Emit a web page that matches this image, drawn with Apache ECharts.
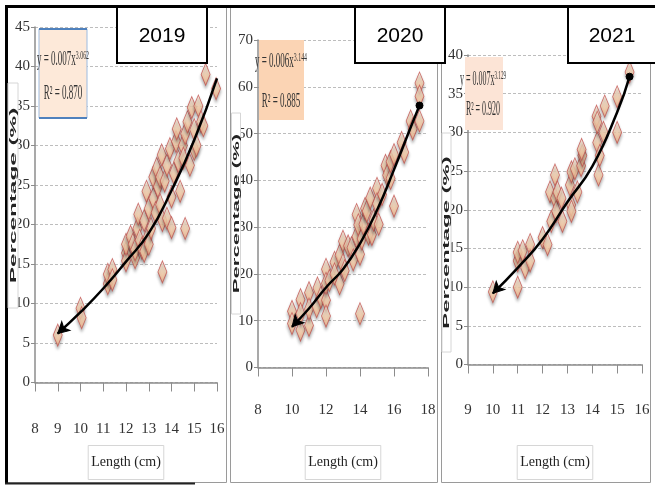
<!DOCTYPE html>
<html><head><meta charset="utf-8">
<script src="https://cdn.jsdelivr.net/npm/echarts@6/dist/echarts.min.js"></script>
<style>html,body{margin:0;padding:0;background:#fff}#c{width:655px;height:485px}</style>
</head><body><div id="c"></div>
<script>
// ---- data ----
const years = ['2019', '2020', '2021'];
const xTitle = 'Length (cm)';
const yTitle = 'Percentage (%)';
const eqBase = ['y = 0.007x', 'y = 0.006x', 'y = 0.007x'];
const eqExp = ['3.062', '3.144', '3.129'];
const r2 = ['R² = 0.870', 'R² = 0.885', 'R² = 0.920'];

const len2019 = [9.0,10.0,10.05,11.2,11.2,11.4,11.4,12.0,12.0,12.0,12.2,12.3,12.4,12.4,12.5,12.54,12.6,12.7,12.8,12.8,12.9,12.94,13.0,13.0,13.1,13.2,13.2,13.3,13.35,13.4,13.5,13.5,13.57,13.6,13.6,13.7,13.8,13.8,13.93,14.0,14.0,14.1,14.2,14.23,14.3,14.38,14.5,14.52,14.6,14.6,14.7,14.81,14.89,15.0,15.0,15.1,15.18,15.3,15.4,15.5,15.96];
const pct2019 = [6.0,9.4,8.2,12.5,13.7,14.3,13.0,16.4,15.4,17.5,18.5,17.5,15.8,16.8,19.5,21.3,18.0,17.0,16.6,20.5,24.2,18.3,22.0,17.5,19.5,23.3,26.0,21.5,27.1,24.8,22.5,26.0,28.8,14.0,20.5,25.5,20.8,27.5,29.6,19.6,23.5,26.5,30.5,32.1,28.0,24.2,30.0,28.4,19.5,31.5,33.0,27.5,34.8,29.5,32.0,30.0,35.0,33.0,32.5,39.0,37.2];
const trendLen2019 = [9, 10, 11, 12, 13, 14, 15, 16];
const trendPct2019 = [6.2, 8.9, 11.9, 15.3, 18.9, 24.3, 30.7, 38.5];

const len2020 = [10.0,10.0,10.5,10.5,10.5,11.0,11.0,11.0,11.45,11.5,11.7,12.0,12.0,12.0,12.0,12.2,12.5,12.5,12.8,12.8,13.0,13.0,13.1,13.3,13.5,13.6,13.8,13.8,13.9,14.0,14.0,14.1,14.2,14.3,14.4,14.5,14.6,14.7,14.8,15.0,15.0,15.1,15.3,15.5,15.6,15.8,15.8,16.0,16.0,16.45,16.6,16.98,17.1,17.5,17.5,17.5];
const pct2020 = [12.0,9.4,14.5,8.0,11.5,16.0,9.0,12.5,13.0,17.0,15.0,21.0,14.4,11.0,18.0,18.6,22.5,20.0,17.9,24.0,27.0,22.0,20.7,26.0,25.6,23.0,32.7,28.0,30.5,11.5,24.2,27.5,30.6,34.0,33.4,28.5,36.2,28.4,31.5,38.3,35.0,30.6,37.0,43.2,41.1,40.4,44.0,34.5,45.5,48.1,46.0,52.7,51.0,60.8,58.0,52.7];
const trendLen2020 = [10, 11, 12, 13, 14, 15, 16, 17, 17.5];
const trendPct2020 = [8.7, 12.6, 17.1, 21.0, 26.5, 33.6, 42.3, 51.5, 56.0];

const len2021 = [10.0,11.0,11.0,11.0,11.2,11.3,11.5,11.5,12.0,12.2,12.3,12.35,12.5,12.5,12.55,12.6,12.8,12.76,13.1,13.16,13.15,13.16,13.3,13.4,13.55,13.6,13.57,14.17,14.2,14.2,14.25,14.3,14.45,14.5,15.0,15.0,15.5];
const pct2021 = [9.4,13.4,10.0,14.5,14.7,12.5,15.5,13.4,16.4,15.5,22.3,18.5,24.5,21.5,19.8,22.3,18.5,21.5,23.2,24.9,20.6,19.8,25.3,22.3,25.7,27.0,27.8,32.1,28.7,31.3,24.5,27.0,30.0,33.4,34.6,30.0,37.8];
const trendLen2021 = [10, 11, 12, 13, 14, 15, 15.5];
const trendPct2021 = [9.2, 12.5, 16.2, 21.0, 25.6, 32.6, 37.2];

// ---- layout ----
const grids = [
  {left: 35, top: 27, width: 182, height: 359},
  {left: 258, top: 40, width: 170, height: 331},
  {left: 468, top: 55, width: 174, height: 313}
];
const xr = [[8, 16, 1], [8, 18, 2], [9, 16, 1]];
const yr = [[0, 45, 5], [0, 70, 10], [0, 40, 5]];
const labelMargin = [39, 35, 38];
const nameGap = [63, 78, 81];

const serif = "'Liberation Serif','Times New Roman',serif";
const axisGray = '#8c8c8c';

const xAxes = xr.map((r, i) => ({
  gridIndex: i, type: 'value', min: r[0], max: r[1], interval: r[2],
  axisLine: {show: true, lineStyle: {color: axisGray, width: 1.5}},
  axisTick: {show: true, length: 9, lineStyle: {color: axisGray}},
  axisLabel: {margin: labelMargin[i], fontFamily: serif, fontSize: 15, color: '#333'},
  splitLine: {show: false},
  name: xTitle, nameLocation: 'middle', nameGap: nameGap[i],
  nameTextStyle: {fontFamily: serif, fontSize: 14, color: '#222', borderColor: '#d6d6d6', borderWidth: 1, padding: [10, 3, 10, 3]}
}));
const yAxes = yr.map((r, i) => ({
  gridIndex: i, type: 'value', min: r[0], max: r[1], interval: r[2],
  axisLine: {show: true, lineStyle: {color: axisGray, width: 1.5}},
  axisTick: {show: true, length: 4, lineStyle: {color: axisGray}},
  axisLabel: {margin: 5, fontFamily: serif, fontSize: 15, color: '#333'},
  splitLine: {show: true, lineStyle: {color: '#bdbdbd', type: [3, 2], width: 1}}
}));

const diamondStyle = {
  color: new echarts.graphic.LinearGradient(0, 0, 0, 1, [
    {offset: 0, color: '#fff4ea'}, {offset: 0.55, color: '#fcd3ae'}, {offset: 1, color: '#f3b184'}
  ]),
  borderColor: '#c0504d', borderWidth: 1,
  shadowBlur: 3, shadowColor: 'rgba(0,0,0,0.35)', shadowOffsetY: 3
};

function scatter(i, xs, ys) {
  return {
    type: 'scatter', xAxisIndex: i, yAxisIndex: i, clip: false, z: 2,
    symbol: 'diamond', symbolSize: [9, 22], itemStyle: diamondStyle,
    data: xs.map((x, k) => [x, ys[k]])
  };
}
function trend(i, xs, ys, rot, endDot) {
  const data = xs.map((x, k) => {
    const item = {value: [x, ys[k]]};
    if (k === 0) { item.symbol = 'arrow'; item.symbolSize = [9, 11]; item.symbolRotate = rot; }
    if (k === xs.length - 1 && endDot) { item.symbol = 'circle'; item.symbolSize = 7; }
    return item;
  });
  return {
    type: 'line', xAxisIndex: i, yAxisIndex: i, z: 5, smooth: true, clip: false,
    symbol: 'none', showSymbol: true,
    lineStyle: {color: '#000', width: 2.5},
    itemStyle: {color: '#000', borderColor: '#000'},
    data: data
  };
}

// ---- decorations ----
const graphic = [];
[[7.5, 219], [230.5, 207], [441.5, 209]].forEach(p => graphic.push({
  type: 'rect', z: 1, shape: {x: p[0], y: 7.5, width: p[1], height: 475},
  style: {fill: null, stroke: '#9a9a9a', lineWidth: 1}
}));
graphic.push({type: 'line', z: 1, shape: {x1: 5, y1: 6.5, x2: 655, y2: 6.5}, style: {stroke: '#000', lineWidth: 3}});
graphic.push({type: 'line', z: 1, shape: {x1: 6.5, y1: 5, x2: 6.5, y2: 484}, style: {stroke: '#000', lineWidth: 3}});
graphic.push({type: 'line', z: 1, shape: {x1: 5, y1: 483.5, x2: 195, y2: 483.5}, style: {stroke: '#222', lineWidth: 2}});

[[117, 162], [355, 400], [568, 612]].forEach((b, i) => {
  graphic.push({type: 'rect', z: 100, shape: {x: b[0], y: 7, width: 90, height: 56},
    style: {fill: '#fff', stroke: '#000', lineWidth: 2}});
  graphic.push({type: 'text', z: 101, x: b[1], y: 36,
    style: {text: years[i], font: '21px "Liberation Sans", Arial, sans-serif', fill: '#000', align: 'center', verticalAlign: 'middle'}});
});

const eqBoxes = [
  {x: 39, y: 29, w: 48, h: 89, fill: '#fde9d9', cx: 63, l1: 60, l2: 94},
  {x: 259, y: 40, w: 45, h: 80, fill: '#fbd4b4', cx: 281, l1: 62, l2: 102},
  {x: 465, y: 57, w: 38, h: 73, fill: '#fce4d6', cx: 483, l1: 80, l2: 110}
];
eqBoxes.forEach((b, i) => {
  graphic.push({type: 'rect', z: 100, shape: {x: b.x, y: b.y, width: b.w, height: b.h},
    style: {fill: b.fill, stroke: i === 0 ? '#9dbbe0' : null, lineWidth: 1}});
  if (i === 0) {
    graphic.push({type: 'line', z: 101, shape: {x1: b.x, y1: b.y, x2: b.x + b.w, y2: b.y}, style: {stroke: '#4f81bd', lineWidth: 2}});
    graphic.push({type: 'line', z: 101, shape: {x1: b.x, y1: b.y + b.h, x2: b.x + b.w, y2: b.y + b.h}, style: {stroke: '#4f81bd', lineWidth: 2}});
  }
  const sx = i === 2 ? 0.4 : 0.45;
  graphic.push({type: 'text', z: 102, x: b.cx, y: b.l1, scaleX: sx,
    style: {
      text: '{a|' + eqBase[i] + '}{b|' + eqExp[i] + '}',
      align: 'center', verticalAlign: 'middle', fill: '#333',
      rich: {
        a: {font: '20px "Liberation Serif", serif', fill: '#333', lineHeight: 22},
        b: {font: '13px "Liberation Serif", serif', fill: '#333', verticalAlign: 'top', lineHeight: 12}
      }
    }});
  graphic.push({type: 'text', z: 102, x: b.cx, y: b.l2, scaleX: sx,
    style: {text: r2[i], font: '20px "Liberation Serif", serif', fill: '#333', align: 'center', verticalAlign: 'middle'}});
});

const yTitles = [
  {x: 8, y: 83, w: 10, h: 225, sx: 2.7},
  {x: 231.5, y: 113, w: 9, h: 201, sx: 2.45},
  {x: 442, y: 133, w: 9, h: 219, sx: 2.65}
];
yTitles.forEach(t => {
  graphic.push({type: 'rect', z: 100, shape: {x: t.x, y: t.y, width: t.w, height: t.h},
    style: {fill: '#fff', stroke: '#d6d6d6', lineWidth: 1}});
  graphic.push({type: 'text', z: 101, x: t.x + t.w / 2 + 0.5, y: t.y + t.h / 2, rotation: Math.PI / 2, scaleX: t.sx,
    style: {text: yTitle, font: 'bold 9px "Liberation Sans", Arial, sans-serif', fill: '#222', align: 'center', verticalAlign: 'middle'}});
});

const chart = echarts.init(document.getElementById('c'), null, {renderer: 'canvas'});
chart.setOption({
  animation: false,
  backgroundColor: '#fff',
  grid: grids,
  xAxis: xAxes,
  yAxis: yAxes,
  graphic: graphic,
  series: [
    scatter(0, len2019, pct2019),
    scatter(1, len2020, pct2020),
    scatter(2, len2021, pct2021),
    trend(0, trendLen2019, trendPct2019, 133, false),
    trend(1, trendLen2020, trendPct2020, 137, true),
    trend(2, trendLen2021, trendPct2021, 136, true)
  ]
});
</script></body></html>
